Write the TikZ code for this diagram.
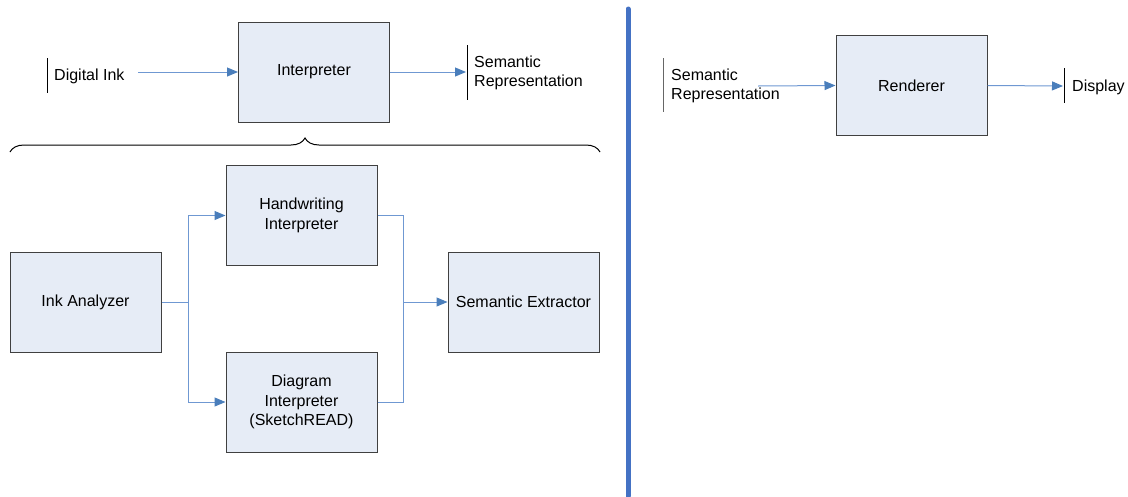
\documentclass[tikz,border=0pt]{standalone}
\usepackage{fontspec}
\setmainfont{Liberation Sans}
\usetikzlibrary{arrows.meta,decorations.pathreplacing,positioning}
\definecolor{boxfill}{HTML}{E6ECF6}
\definecolor{boxline}{HTML}{404040}
\definecolor{flow}{HTML}{6F98D2}
\definecolor{flowhead}{HTML}{4A7EBB}
\definecolor{divider}{HTML}{4472C4}
\begin{document}
\begin{tikzpicture}[x=1pt,y=-1pt,
  font=\fontsize{16}{19.5}\selectfont,
  stage/.style={draw=boxline,line width=1pt,fill=boxfill,minimum width=151pt,minimum height=100pt,
    align=center,inner sep=0pt},
  flowline/.style={draw=flow,line width=1pt},
  flowarrow/.style={flowline,-{Triangle[length=11pt,width=9pt,color=flowhead]}},
  endpoint/.style={anchor=west,align=left,inner sep=0pt},
  endbar/.style={draw=black,line width=1pt}
]
\useasboundingbox (0,0) rectangle (1128,496);

% ---- interpretation stage ----
\node[stage] (interp) at (314,72) {Interpreter};
\coordinate (inkbarT) at (47,58);
\coordinate (inkbarB) at (47,93);
\draw[endbar] (inkbarT) -- (inkbarB);
\node[endpoint] (ink) at (54,76) {Digital Ink};
\coordinate (inkout) at (138,72);
\draw[flowarrow] (inkout) -- (interp.west);

\coordinate (semT) at (467,45);
\coordinate (semB) at (467,100);
\draw[endbar] (semT) -- (semB);
\node[endpoint] (sem) at (474,73) {Semantic\\Representation};
\coordinate (semin) at (466,72);
\draw[flowarrow] (interp.east) -- (semin);

% brace spanning the interpreter internals
\coordinate (braceL) at (10,152);
\coordinate (braceR) at (600,152);
\draw[line width=1pt,decorate,decoration={brace,amplitude=14pt}] (braceL) -- (braceR);

% ---- interpreter internals ----
\node[stage] (analyzer) at (85.5,302) {Ink Analyzer};
\node[stage] (hw) at (301.5,215.5) {Handwriting\\Interpreter};
\node[stage] (diag) at (301.5,402) {Diagram\\Interpreter\\(SketchREAD)};
\node[stage] (extract) at (523.5,302) {Semantic Extractor};

\coordinate (split) at (188,302);
\coordinate (join) at (403,302);
\draw[flowline] (analyzer.east) -- (split);
\draw[flowarrow] (split) |- (hw.west);
\draw[flowarrow] (split) |- (diag.west);
\draw[flowline] (hw.east) -| (join);
\draw[flowline] (diag.east) -| (join);
\draw[flowarrow] (join) -- (extract.west);

% ---- divider ----
\coordinate (divT) at (628,9);
\coordinate (divB) at (628,496);
\draw[divider,line width=5pt,line cap=round] (divT) -- (divB);

% ---- rendering stage ----
\node[stage] (render) at (911.5,85.5) {Renderer};
\coordinate (rsemT) at (663,58);
\coordinate (rsemB) at (663,112);
\draw[endbar,draw=black!60] (rsemT) -- (rsemB);
\node[endpoint] (rsem) at (671,86) {Semantic\\Representation};
\coordinate (rsemout) at (758,86);
\draw[flowarrow] (rsemout) -- (render.west);

\coordinate (dispT) at (1064,68);
\coordinate (dispB) at (1064,103);
\draw[endbar] (dispT) -- (dispB);
\node[endpoint] (disp) at (1072,87) {Display};
\coordinate (dispin) at (1063,86);
\draw[flowarrow] (render.east) -- (dispin);
\end{tikzpicture}
\end{document}
